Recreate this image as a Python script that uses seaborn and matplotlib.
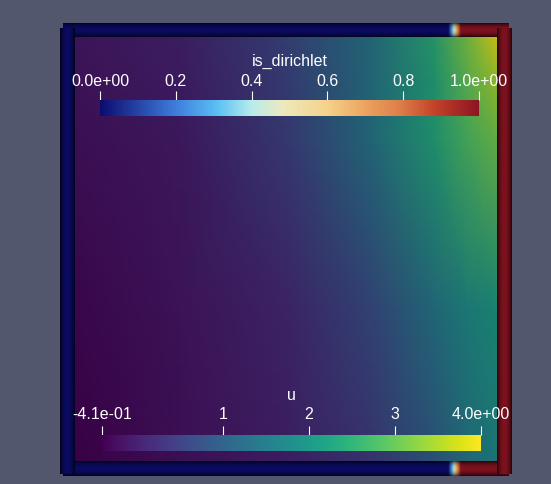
"""
ParaView-style render of u on the unit square with is_dirichlet boundary tubes.
"""

import numpy as np
import matplotlib

matplotlib.use("Agg")
import matplotlib.pyplot as plt
from matplotlib.cm import ScalarMappable
from matplotlib.colors import LinearSegmentedColormap, ListedColormap, Normalize
import seaborn as sns

x_nodes = [0.0, 0.25, 0.5, 0.7, 0.85, 0.93, 1.0]
y_nodes = [0.0, 0.36, 0.76, 0.9, 1.0]
u_rows = [
    [-0.41, -0.19, 0.03, 0.38, 0.95, 1.45, 1.75],
    [-0.32, -0.15, 0.12, 0.65, 1.40, 1.80, 2.05],
    [-0.19, -0.06, 0.47, 1.35, 2.30, 2.80, 3.10],
    [-0.15, -0.01, 0.52, 1.35, 2.30, 3.00, 3.45],
    [-0.10, 0.03, 0.56, 1.35, 2.40, 3.20, 3.90],
]
u_min, u_max = -0.41, 4.0
u_ticks = [-0.41, 1, 2, 3, 4.0]
u_ticklabels = ["-4.1e-01", "1", "2", "3", "4.0e+00"]

# is_dirichlet on the boundary
edge_pos = [0.0, 0.885, 0.915, 1.0]  # along x, top and bottom edges
edge_dir = [0.0, 0.0, 1.0, 1.0]
left_dir = 0.0
right_dir = 1.0
dir_ticks = [0, 0.2, 0.4, 0.6, 0.8, 1.0]
dir_ticklabels = ["0.0e+00", "0.2", "0.4", "0.6", "0.8", "1.0e+00"]

BG = "#52576e"
W, H = 551, 485

sns.set_theme(style="white")
plt.rcParams["font.family"] = ["Liberation Sans", "DejaVu Sans"]

# plane is lit, so its colours come out a bit darker than the bar
viridis = np.array(sns.color_palette("viridis", 256))
u_cmap_lit = ListedColormap(viridis * 0.82)
u_cmap = sns.color_palette("viridis", as_cmap=True)

dir_cmap = LinearSegmentedColormap.from_list(
    "dir",
    [
        (0.0, "#0c0c6e"),
        (0.19, "#3c78d8"),
        (0.31, "#5ac0f5"),
        (0.40, "#b8ecea"),
        (0.48, "#ece9be"),
        (0.60, "#f5d28a"),
        (0.70, "#eba45e"),
        (0.80, "#dc7a48"),
        (0.88, "#c44428"),
        (1.0, "#8c1422"),
    ],
)

fig = plt.figure(figsize=(W / 100, H / 100), dpi=100, facecolor=BG)

# plane occupies px x 75..497, y 38..462
ax = fig.add_axes([75 / W, (H - 462) / H, 422 / W, 424 / H])
ax.set_facecolor(BG)
ax.pcolormesh(x_nodes, y_nodes, np.array(u_rows), cmap=u_cmap_lit,
              vmin=u_min, vmax=u_max, shading="gouraud", zorder=1)


def tube(extent, values, horizontal):
    # cylinder shading across the tube width
    s = np.linspace(0, 1, 32)
    shade = 0.22 + 0.68 * np.sin(np.pi * s) ** 0.7
    rgb = dir_cmap(np.asarray(values))[:, :3]
    if horizontal:
        img = shade[:, None, None] * rgb[None, :, :]
    else:
        img = rgb[:, None, :] * shade[None, :, None]
    ax.imshow(np.clip(img, 0, 1), extent=extent, aspect="auto", origin="lower",
              interpolation="bilinear", clip_on=False, zorder=3)


along = np.linspace(-0.028, 1.028, 600)
top_vals = np.interp(along, edge_pos, edge_dir)
tube([-0.028, 1.028, 1.0, 1.033], top_vals, True)
tube([-0.028, 1.028, -0.035, 0.0], top_vals, True)
tube([-0.0355, 0.0, -0.031, 1.019], np.full(50, left_dir), False)
tube([1.0, 1.0355, -0.031, 1.019], np.full(50, right_dir), False)

ax.set_xlim(0, 1)
ax.set_ylim(0, 1)
ax.axis("off")


def colorbar(rect, cmap, vmin, vmax, ticks, labels, title, title_y, pad):
    cax = fig.add_axes(rect)
    cb = fig.colorbar(ScalarMappable(Normalize(vmin, vmax), cmap), cax=cax,
                      orientation="horizontal")
    cb.outline.set_visible(False)
    cax.xaxis.set_ticks_position("top")
    cb.set_ticks(ticks)
    cb.set_ticklabels(labels)
    cax.tick_params(axis="x", colors="white", labelcolor="white", labelsize=11.5,
                    length=6.5, width=0.8, pad=pad, direction="out")
    x_mid = rect[0] + rect[2] / 2
    fig.text(x_mid, 1 - title_y / H, title, color="white", fontsize=11.5,
             ha="center", va="center")


colorbar([100 / W, (H - 117) / H, 379 / W, 16 / H], dir_cmap, 0, 1,
         dir_ticks, dir_ticklabels, "is_dirichlet", 61, 2.5)
colorbar([102 / W, (H - 452) / H, 379 / W, 16 / H], u_cmap, u_min, u_max,
         u_ticks, u_ticklabels, "u", 396, 3.5)

fig.savefig("out.png", dpi=100, facecolor=BG)
